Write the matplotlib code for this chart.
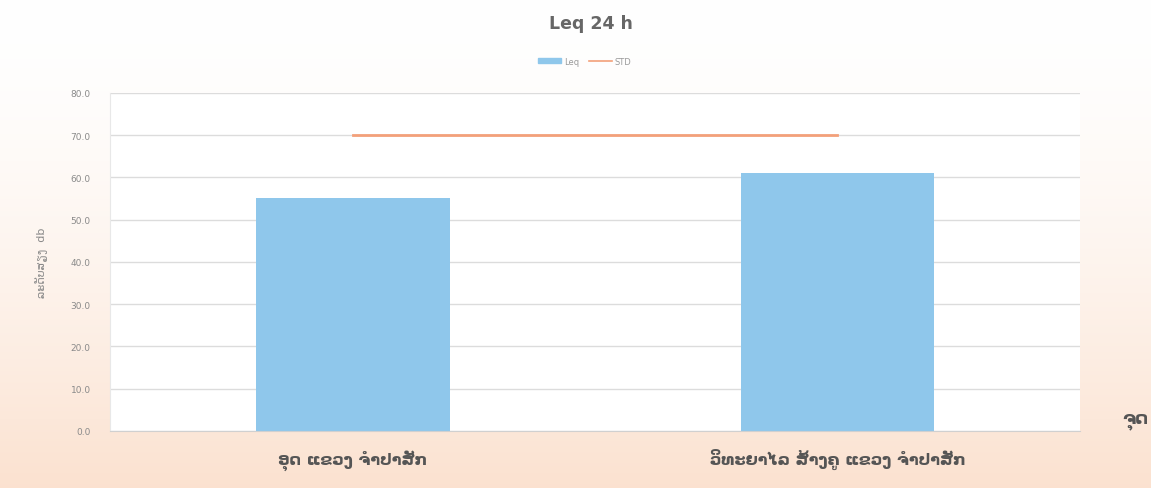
import numpy as np
import matplotlib.pyplot as plt
from matplotlib.lines import Line2D
from matplotlib.patches import Patch

sites = ['ອຸດ ແຂວງ ຈໍາປາສັກ', 'ວິທະຍາໄລ ສ້າງຄູ ແຂວງ ຈໍາປາສັກ']
leq = [55.1, 61.1]
std = [70.0, 70.0]
y_ticks = [0, 10, 20, 30, 40, 50, 60, 70, 80]

plt.rcParams['font.family'] = ['DejaVu Sans']

fig = plt.figure(figsize=(11.51, 4.89), dpi=100)

# soft white-to-peach backdrop
bg = fig.add_axes([0, 0, 1, 1], zorder=-10)
grad = np.linspace(0, 1, 256).reshape(-1, 1) ** 1.6
top = np.array([1.0, 1.0, 1.0])
bottom = np.array([0.985, 0.885, 0.815])
img = top + (bottom - top) * grad[..., None]
bg.imshow(img, aspect='auto', extent=[0, 1, 0, 1], origin='upper')
bg.axis('off')

ax = fig.add_axes([0.0956, 0.1166, 0.8427, 0.6912])
ax.set_facecolor('white')

x = np.arange(len(sites))
ax.bar(x, leq, width=0.4, color='#8fc7eb', zorder=2)
ax.plot(x, std, color='#f3a07a', lw=2, zorder=3)

ax.set_xlim(-0.5, 1.5)
ax.set_ylim(0, 80)
ax.set_yticks(y_ticks)
ax.set_yticklabels(['{:.1f}'.format(v) for v in y_ticks], fontsize=6.5, color='#8a8a8a')
ax.grid(axis='y', color='#dcdcdc', lw=1, zorder=0)
ax.set_axisbelow(True)
ax.tick_params(axis='both', length=0, pad=14)
ax.set_xticks(x)
ax.set_xticklabels(sites, fontsize=11.5, fontweight='bold', color='#555555')
ax.tick_params(axis='x', pad=13)
for side in ['top', 'right']:
    ax.spines[side].set_visible(False)
ax.spines['left'].set_color('#e8e8e8')
ax.spines['bottom'].set_color('#d0d0d0')

ax.set_ylabel('ລະດັບສຽງ  db', fontsize=8, color='#8a8a8a', labelpad=16)

fig.text(0.513, 0.95, 'Leq 24 h', ha='center', va='center',
         fontsize=12.5, fontweight='bold', color='#666666')

handles = [Patch(color='#8fc7eb', label='Leq'),
           Line2D([0], [0], color='#f3a07a', lw=1.2, label='STD')]
fig.legend(handles=handles, loc='center', bbox_to_anchor=(0.508, 0.873), ncol=2,
           frameon=False, fontsize=6, labelcolor='#9a9a9a', handlelength=2.8,
           handleheight=0.5, columnspacing=1.2, handletextpad=0.3)

# axis title at the right edge
fig.text(0.998, 0.14, 'ຈຸດ', ha='right', va='center',
         fontsize=13, fontweight='bold', color='#555555')

fig.savefig('out.png', dpi=100)
